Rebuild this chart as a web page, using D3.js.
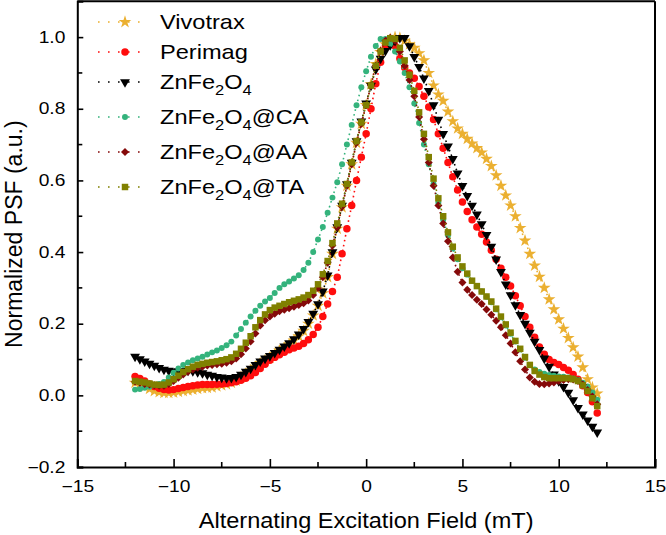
<html>
<head>
<style>
  body { margin: 0; background: #fff; }
  svg text { font-family: Arial, "Liberation Sans", sans-serif; fill: #000; }
</style>
</head>
<body>
<svg id="chart" width="666" height="535"></svg>
<script src="https://cdn.jsdelivr.net/npm/d3@7"></script>
<script>
// alternating excitation field (mT), shared by all samples
var field = [
  -12, -11.75, -11.5, -11.25, -11, -10.75, -10.5, -10.25, -10, -9.75, -9.5, -9.25, -9, -8.75, -8.5, -8.25,
  -8, -7.75, -7.5, -7.25, -7, -6.75, -6.5, -6.25, -6, -5.75, -5.5, -5.25, -5, -4.75, -4.5, -4.25,
  -4, -3.75, -3.5, -3.25, -3, -2.75, -2.5, -2.25, -2, -1.75, -1.5, -1.25, -1, -0.75, -0.5, -0.25,
  0, 0.25, 0.5, 0.75, 1, 1.25, 1.5, 1.75, 2, 2.25, 2.5, 2.75, 3, 3.25, 3.5, 3.75,
  4, 4.25, 4.5, 4.75, 5, 5.25, 5.5, 5.75, 6, 6.25, 6.5, 6.75, 7, 7.25, 7.5, 7.75,
  8, 8.25, 8.5, 8.75, 9, 9.25, 9.5, 9.75, 10, 10.25, 10.5, 10.75, 11, 11.25, 11.5, 11.75, 12
]

// normalized PSF
var vivotrax = [
  0.035, 0.03, 0.025, 0.018, 0.012, 0.009, 0.007, 0.007, 0.008, 0.01, 0.012, 0.014, 0.016, 0.018, 0.02, 0.021,
  0.022, 0.025, 0.028, 0.031, 0.035, 0.041, 0.05, 0.06, 0.07, 0.08, 0.09, 0.098, 0.105, 0.115, 0.125, 0.133,
  0.142, 0.153, 0.165, 0.18, 0.2, 0.223, 0.25, 0.285, 0.33, 0.395, 0.465, 0.525, 0.585, 0.645, 0.705, 0.758,
  0.81, 0.868, 0.925, 0.958, 0.98, 0.994, 1.0, 0.998, 0.99, 0.98, 0.97, 0.955, 0.935, 0.9, 0.865, 0.84,
  0.822, 0.792, 0.765, 0.745, 0.73, 0.716, 0.703, 0.69, 0.678, 0.66, 0.64, 0.614, 0.585, 0.558, 0.53, 0.5,
  0.467, 0.432, 0.395, 0.362, 0.331, 0.3, 0.268, 0.24, 0.212, 0.186, 0.16, 0.134, 0.108, 0.078, 0.045, 0.022, 0.005
]
var perimag = [
  0.053, 0.047, 0.04, 0.032, 0.025, 0.02, 0.016, 0.015, 0.016, 0.019, 0.022, 0.025, 0.027, 0.029, 0.03, 0.03,
  0.03, 0.031, 0.032, 0.033, 0.035, 0.038, 0.042, 0.048, 0.055, 0.064, 0.075, 0.087, 0.098, 0.106, 0.113, 0.12,
  0.127, 0.132, 0.137, 0.145, 0.155, 0.17, 0.19, 0.22, 0.255, 0.29, 0.33, 0.395, 0.465, 0.53, 0.6, 0.665,
  0.73, 0.8, 0.87, 0.93, 0.975, 0.995, 0.975, 0.94, 0.915, 0.9, 0.885, 0.862, 0.835, 0.805, 0.77, 0.73,
  0.69, 0.65, 0.61, 0.573, 0.54, 0.513, 0.49, 0.47, 0.45, 0.428, 0.405, 0.38, 0.355, 0.33, 0.305, 0.278,
  0.25, 0.22, 0.19, 0.162, 0.135, 0.115, 0.1, 0.092, 0.086, 0.078, 0.07, 0.058, 0.045, 0.027, 0.008, -0.018, -0.049
]
var znfe = [
  0.108, 0.101, 0.095, 0.089, 0.083, 0.077, 0.072, 0.069, 0.067, 0.067, 0.068, 0.069, 0.068, 0.065, 0.062, 0.058,
  0.055, 0.052, 0.05, 0.048, 0.049, 0.052, 0.058, 0.066, 0.075, 0.085, 0.095, 0.103, 0.11, 0.119, 0.128, 0.137,
  0.146, 0.157, 0.17, 0.186, 0.205, 0.228, 0.255, 0.29, 0.335, 0.4, 0.47, 0.53, 0.59, 0.65, 0.71, 0.765,
  0.815, 0.865, 0.91, 0.94, 0.962, 0.978, 0.99, 0.998, 0.998, 0.975, 0.945, 0.917, 0.885, 0.85, 0.81, 0.77,
  0.73, 0.695, 0.66, 0.62, 0.585, 0.557, 0.53, 0.505, 0.478, 0.448, 0.415, 0.38, 0.345, 0.31, 0.28, 0.252,
  0.225, 0.2, 0.175, 0.15, 0.127, 0.103, 0.08, 0.059, 0.04, 0.024, 0.008, -0.013, -0.035, -0.053, -0.07, -0.087, -0.103
]
var znfeCA = [
  0.016, 0.018, 0.021, 0.024, 0.028, 0.032, 0.037, 0.05, 0.063, 0.075, 0.085, 0.092, 0.098, 0.103, 0.108, 0.114,
  0.12, 0.125, 0.132, 0.14, 0.15, 0.167, 0.185, 0.203, 0.22, 0.236, 0.25, 0.262, 0.272, 0.286, 0.3, 0.31,
  0.318, 0.326, 0.335, 0.35, 0.37, 0.4, 0.435, 0.47, 0.51, 0.552, 0.595, 0.645, 0.7, 0.755, 0.81, 0.86,
  0.905, 0.945, 0.975, 0.995, 0.995, 0.982, 0.96, 0.932, 0.9, 0.86, 0.815, 0.76, 0.7, 0.645, 0.59, 0.538,
  0.49, 0.447, 0.41, 0.38, 0.355, 0.337, 0.32, 0.305, 0.29, 0.275, 0.26, 0.24, 0.218, 0.195, 0.172, 0.15,
  0.128, 0.105, 0.085, 0.072, 0.065, 0.06, 0.057, 0.055, 0.053, 0.052, 0.05, 0.047, 0.043, 0.035, 0.025, 0.008, -0.012
]
var znfeAA = [
  0.038, 0.035, 0.032, 0.03, 0.028, 0.027, 0.027, 0.032, 0.04, 0.049, 0.058, 0.066, 0.072, 0.077, 0.08, 0.083,
  0.085, 0.087, 0.088, 0.091, 0.095, 0.103, 0.115, 0.131, 0.15, 0.173, 0.195, 0.21, 0.22, 0.228, 0.235, 0.239,
  0.243, 0.247, 0.252, 0.257, 0.265, 0.28, 0.3, 0.33, 0.37, 0.418, 0.47, 0.527, 0.585, 0.645, 0.705, 0.758,
  0.81, 0.865, 0.92, 0.962, 0.99, 0.998, 0.99, 0.96, 0.92, 0.88, 0.835, 0.777, 0.715, 0.65, 0.585, 0.53,
  0.48, 0.43, 0.385, 0.345, 0.315, 0.295, 0.28, 0.267, 0.255, 0.24, 0.225, 0.208, 0.19, 0.168, 0.145, 0.12,
  0.095, 0.072, 0.05, 0.038, 0.032, 0.031, 0.033, 0.036, 0.04, 0.043, 0.045, 0.044, 0.04, 0.03, 0.015, -0.003, -0.025
]
var znfeTA = [
  0.04, 0.038, 0.036, 0.033, 0.03, 0.029, 0.03, 0.036, 0.045, 0.055, 0.065, 0.073, 0.08, 0.085, 0.088, 0.091,
  0.093, 0.095, 0.098, 0.101, 0.106, 0.116, 0.13, 0.147, 0.165, 0.19, 0.21, 0.226, 0.238, 0.245, 0.25, 0.255,
  0.26, 0.264, 0.268, 0.273, 0.28, 0.292, 0.31, 0.338, 0.375, 0.425, 0.48, 0.535, 0.59, 0.65, 0.71, 0.762,
  0.81, 0.865, 0.92, 0.96, 0.985, 0.997, 0.995, 0.97, 0.935, 0.895, 0.85, 0.79, 0.73, 0.665, 0.605, 0.55,
  0.5, 0.455, 0.415, 0.385, 0.36, 0.34, 0.32, 0.305, 0.29, 0.276, 0.262, 0.242, 0.22, 0.198, 0.175, 0.152,
  0.13, 0.107, 0.085, 0.068, 0.058, 0.051, 0.048, 0.048, 0.048, 0.048, 0.048, 0.045, 0.04, 0.028, 0.012, -0.008, -0.03
]

var xTicks = [-15, -10, -5, 0, 5, 10, 15]
var yTicks = [-0.2, 0.0, 0.2, 0.4, 0.6, 0.8, 1.0]

// legend order = draw order (last one ends up on top)
var series = [
  {name: 'Vivotrax', values: vivotrax, color: '#EBB031', shape: 'star'},
  {name: 'Perimag', values: perimag, color: '#FF0D0D', shape: 'circle'},
  {name: ['ZnFe', '2', 'O', '4', ''], values: znfe, color: '#000000', shape: 'tri'},
  {name: ['ZnFe', '2', 'O', '4', '@CA'], values: znfeCA, color: '#34B37C', shape: 'dot'},
  {name: ['ZnFe', '2', 'O', '4', '@AA'], values: znfeAA, color: '#850A0A', shape: 'diamond'},
  {name: ['ZnFe', '2', 'O', '4', '@TA'], values: znfeTA, color: '#808000', shape: 'square'}
]

var svg = d3.select('#chart')
// plot box (don't call these top/left: window.top is read-only)
var boxL = 77.3, boxR = 655, boxT = 1.3, boxB = 467

var x = d3.scaleLinear().domain([-15, 15]).range([boxL, boxR])
var y = d3.scaleLinear().domain([-0.2, 1.1]).range([boxB, boxT])

function symbolPath(shape) {
  if (shape == 'star') return d3.symbol(d3.symbolStar, 50)()
  if (shape == 'circle') return d3.symbol(d3.symbolCircle, 44)()
  if (shape == 'tri') return d3.symbol(d3.symbolTriangle, 42)()
  if (shape == 'dot') return d3.symbol(d3.symbolCircle, 28)()
  if (shape == 'diamond') return d3.symbol(d3.symbolSquare, 32)()
  return d3.symbol(d3.symbolSquare, 42)()
}
function symbolRotate(shape) {
  if (shape == 'tri') return ' rotate(180)'
  if (shape == 'diamond') return ' rotate(45)'
  return ''
}

var line = d3.line()
  .x((d, i) => x(field[i]))
  .y(d => y(d))

var plot = svg.append('g')

series.forEach(function(s) {
  plot.append('path')
    .attr('d', line(s.values))
    .attr('fill', 'none')
    .attr('stroke', s.color)
    .attr('stroke-width', 1.6)
    .attr('stroke-dasharray', '1.6,3.4')

  plot.append('g').selectAll('path')
    .data(s.values)
    .enter().append('path')
    .attr('d', symbolPath(s.shape))
    .attr('transform', (d, i) => 'translate(' + x(field[i]) + ',' + y(d) + ')' + symbolRotate(s.shape))
    .attr('fill', s.color)
})

// axes: ticks point inwards, minor ticks between majors
var xAxis = svg.append('g')
  .attr('transform', 'translate(0,' + boxB + ')')
  .call(d3.axisBottom(x).tickValues(xTicks).tickSize(-8).tickPadding(14).tickFormat(d => d < 0 ? '\u2212' + Math.abs(d) : d))
xAxis.append('g').selectAll('line')
  .data([-12.5, -7.5, -2.5, 2.5, 7.5, 12.5])
  .enter().append('line')
  .attr('x1', d => x(d)).attr('x2', d => x(d))
  .attr('y1', 0).attr('y2', -5)
  .attr('stroke', '#000').attr('stroke-width', 1.6)

var yAxis = svg.append('g')
  .attr('transform', 'translate(' + boxL + ',0)')
  .call(d3.axisLeft(y).tickValues(yTicks).tickSize(-6).tickPadding(10).tickFormat(d => d < 0 ? '\u2212' + Math.abs(d).toFixed(1) : d.toFixed(1)))
yAxis.append('g').selectAll('line')
  .data([-0.1, 0.1, 0.3, 0.5, 0.7, 0.9])
  .enter().append('line')
  .attr('x1', 0).attr('x2', 5)
  .attr('y1', d => y(d)).attr('y2', d => y(d))
  .attr('stroke', '#000').attr('stroke-width', 1.6)

svg.selectAll('.domain').attr('stroke-width', 2)
svg.selectAll('.tick line').attr('stroke-width', 1.6)
svg.selectAll('.tick text')
  .style('font-size', '16px')
  .attr('transform', 'scale(1.2,1)')

// frame top and right
svg.append('line').attr('x1', boxL).attr('x2', boxR).attr('y1', boxT).attr('y2', boxT)
  .attr('stroke', '#000').attr('stroke-width', 2)
svg.append('line').attr('x1', boxR).attr('x2', boxR).attr('y1', boxT).attr('y2', boxB)
  .attr('stroke', '#000').attr('stroke-width', 2)

// axis titles
var midX = (boxL + boxR) / 2
svg.append('text')
  .attr('transform', 'translate(' + midX + ',528) scale(1.07,1)')
  .attr('text-anchor', 'middle')
  .style('font-size', '22px')
  .text('Alternating Excitation Field (mT)')

svg.append('text')
  .attr('transform', 'translate(22,' + ((boxT + boxB) / 2) + ') rotate(-90)')
  .attr('text-anchor', 'middle')
  .style('font-size', '23px')
  .text('Normalized PSF (a.u.)')

// legend
var legendY = [22, 52, 82, 117, 152, 187]
var legend = svg.append('g')
series.forEach(function(s, i) {
  var row = legend.append('g').attr('transform', 'translate(0,' + legendY[i] + ')')
  row.append('line')
    .attr('x1', 98).attr('x2', 146).attr('y1', 0).attr('y2', 0)
    .attr('stroke', s.color).attr('stroke-width', 1.6)
    .attr('stroke-dasharray', '1.6,8.4')
  row.append('path')
    .attr('d', symbolPath(s.shape))
    .attr('transform', 'translate(125,0)' + symbolRotate(s.shape))
    .attr('fill', s.color)
  var t = row.append('text')
    .attr('transform', 'translate(160,7) scale(1.18,1)')
    .style('font-size', '20px')
  if (typeof s.name == 'string') {
    t.text(s.name)
  } else {
    t.append('tspan').text(s.name[0])
    t.append('tspan').text(s.name[1]).attr('dy', 6).style('font-size', '14px')
    t.append('tspan').text(s.name[2]).attr('dy', -6)
    t.append('tspan').text(s.name[3]).attr('dy', 6).style('font-size', '14px')
    t.append('tspan').text(s.name[4]).attr('dy', -6)
  }
})
</script>
</body>
</html>
